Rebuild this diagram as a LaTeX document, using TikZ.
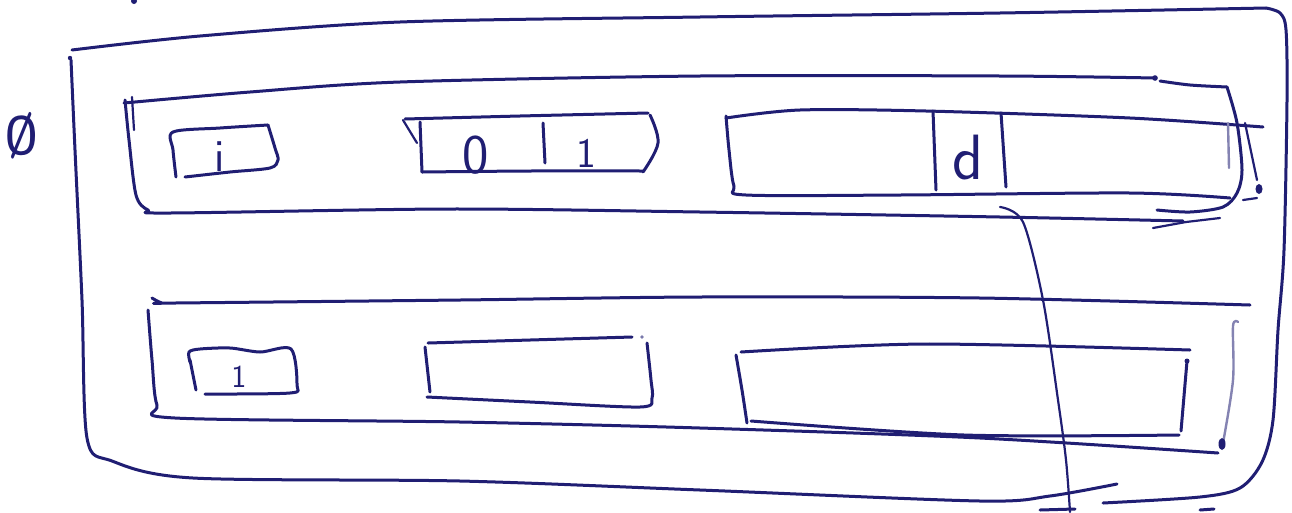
\documentclass[tikz,border=0pt]{standalone}
\definecolor{inkc}{RGB}{32,30,115}
\begin{document}
\begin{tikzpicture}[x=1pt,y=-1pt,
  ink/.style={draw=inkc, line width=3pt, line cap=round, line join=round},
  thin ink/.style={draw=inkc, line width=2.2pt, line cap=round, line join=round},
  faint/.style={draw=inkc!55, line width=2.4pt, line cap=round, line join=round},
  hand/.style={text=inkc, inner sep=0pt, font=\sffamily},
  inkdot/.style={fill=inkc}]
\useasboundingbox (0,0) rectangle (1292,512);
\fill[white] (0,0) rectangle (1292,512);

% ---------- outer frame ----------
\draw[ink] plot[smooth,tension=0.5] coordinates {(72,50) (200,36) (400,22) (700,17) (1000,13) (1266,8)};
\draw[ink] plot[smooth,tension=0.5] coordinates {(1266,8) (1280,13) (1286,30) (1287,100) (1284,250) (1278,330) (1273,420) (1262,462) (1240,488) (1200,497) (1103,503)};
\draw[ink] plot[smooth,tension=0.5] coordinates {(71,60) (75,150) (82,300) (87,438) (112,461) (193,478) (460,481) (700,490) (980,501) (1050,496) (1117,484)};
\fill[inkc] (70,58) circle (2.2pt);

% ---------- row 1 ----------
\draw[ink] plot[smooth,tension=0.5] coordinates {(124,103) (250,92) (400,82) (700,76) (1000,76) (1155,78)};
\fill[inkc] (1155,78) circle (2.8pt);
\draw[ink] plot[smooth,tension=0.5] coordinates {(1160,81) (1190,85) (1227,87)};
\draw[ink] plot[smooth,tension=0.5] coordinates {(1227,87) (1237,123) (1242,170) (1237,193) (1223,207) (1190,212) (1157,210)};
\draw[ink] plot[smooth,tension=0.5] coordinates {(125,100) (129,140) (136,195) (148,210) (170,213) (450,209) (700,212) (1000,217) (1183,221)};
\draw[thin ink] (132,97) -- (134,130);
\draw[thin ink] (1153,228) -- (1186,222) -- (1220,218);

% box "i"
\draw[ink] plot[smooth,tension=0.5] coordinates {(176,177) (173,150) (173,132) (220,128) (268,125)};
\draw[ink] plot[smooth,tension=0.5] coordinates {(268,125) (275,148) (278,160) (270,168) (230,172) (185,177)};
\node[hand,font=\sffamily\fontsize{46}{46}\selectfont] (ti) at (220,157) {i};

% box "0 | 1"
\draw[thin ink] (403,120) -- (417,143);
\draw[ink] plot[smooth,tension=0.5] coordinates {(405,119) (520,116) (648,113)};
\draw[ink] (420,122) -- (422,172);
\draw[ink] plot[smooth,tension=0.5] coordinates {(422,172) (530,171) (643,171)};
\draw[ink] plot[smooth,tension=0.6] coordinates {(650,115) (658,143) (643,172)};
\draw[ink] (543,123) -- (545,163);
\node[hand,font=\sffamily\fontsize{56}{56}\selectfont] (t0) at (476,155) {0};
\node[hand,font=\sffamily\fontsize{42}{42}\selectfont] (t1) at (586,153) {1};

% long box with "d"
\draw[ink] plot[smooth,tension=0.5] coordinates {(726,118) (800,110) (926,111) (1130,118) (1263,127)};
\draw[ink] plot[smooth,tension=0.5] coordinates {(726,116) (729,150) (734,186) (746,195) (900,195) (1130,193) (1230,198)};
\draw[thin ink] (1243,200) -- (1257,198);
\draw[ink] (933,111) -- (936,190);
\draw[ink] (1001,113) -- (1006,187);
\node[hand,font=\sffamily\fontsize{64}{64}\selectfont] (td) at (968,158) {d};
\draw[faint] (1228,123) -- (1229,168);
\draw[thin ink] (1245,123) -- (1257,180);
\fill[inkc] (1259,189) ellipse (3.5pt and 5pt);

% ---------- row 2 ----------
\draw[ink] plot[smooth,tension=0.5] coordinates {(152,298) (162,303) (175,303) (460,300) (700,297) (980,298) (1250,305)};
\draw[ink] plot[smooth,tension=0.5] coordinates {(148,310) (152,360) (157,405) (175,418) (460,422) (700,428) (980,438) (1218,453)};
\draw[faint] plot[smooth,tension=0.5] coordinates {(1238,322) (1233,326) (1233,380) (1223,443)};
\fill[inkc] (1222,444) ellipse (3.5pt and 6pt);

% box "1"
\draw[ink] plot[smooth,tension=0.5] coordinates {(190,362) (189,352) (200,349) (230,348) (260,352) (291,349) (297,385) (290,393) (205,394)};
\draw[ink] (190,360) -- (196,390);
\node[hand,font=\sffamily\fontsize{32}{32}\selectfont] (tone) at (239,377) {1};

% middle empty box
\draw[ink] plot[smooth,tension=0.5] coordinates {(428,343) (530,340) (632,337)};
\fill[inkc!60] (642,337) circle (1.8pt);
\draw[ink] (425,347) -- (430,392);
\draw[ink] plot[smooth,tension=0.5] coordinates {(647,343) (651,380) (652,398) (640,407) (530,402) (427,397)};

% right empty box
\draw[ink] plot[smooth,tension=0.5] coordinates {(741,352) (926,344) (1190,350)};
\draw[ink] plot[smooth,tension=0.5] coordinates {(736,355) (742,390) (747,423)};
\draw[ink] plot[smooth,tension=0.5] coordinates {(751,421) (964,435) (1179,435)};
\draw[ink] (1187,361) -- (1181,431);
\fill[inkc] (1187,361) circle (2.5pt);

% ---------- connector from "d" ----------
\coordinate (cstart) at (1000,207);
\coordinate (cend) at (1070,512);
\draw[thin ink] plot[smooth,tension=0.5] coordinates {(cstart) (1023,222) (1043,300) (1058,400) (1066,460) (cend)};

% ---------- marks at edges ----------
\node[hand,font=\sffamily\bfseries\fontsize{54}{54}\selectfont, xscale=0.7] (mark) at (22,136) {\O};
\draw[ink] (1040,510) -- (1075,509);
\draw[ink] (1200,510) -- (1214,509);
\fill[inkc] (134,1) circle (3pt);
\end{tikzpicture}
\end{document}
